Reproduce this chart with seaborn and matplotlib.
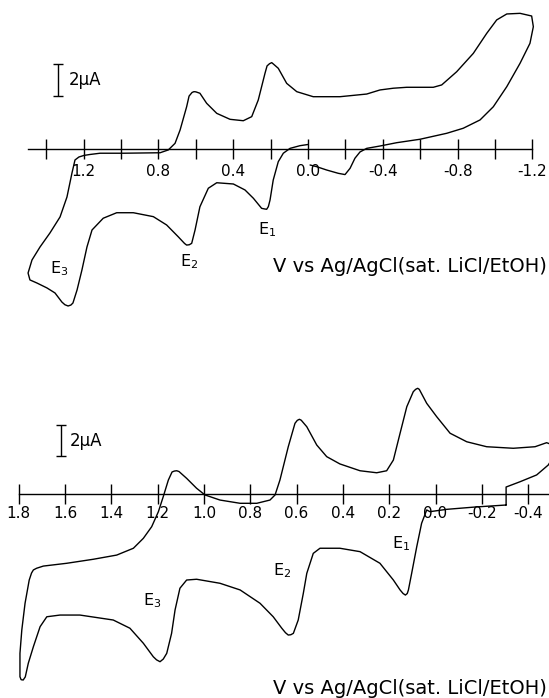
import matplotlib
matplotlib.use("Agg")
import matplotlib.pyplot as plt
import pandas as pd
import seaborn as sns

# Upper voltammogram: potential (V vs Ag/AgCl) and current (uA), in scan order
top_potential = [
    -0.011, -0.047, -0.100, -0.162, -0.198, -0.225, -0.251, -0.278, -0.314, -0.385,
    -0.474, -0.599, -0.742, -0.830, -0.920, -0.991, -1.063, -1.134, -1.187, -1.205,
    -1.196, -1.134, -1.063, -1.009, -0.956, -0.884, -0.795, -0.715, -0.670, -0.528,
    -0.456, -0.385, -0.314, -0.171, -0.028, 0.060, 0.114, 0.159, 0.184, 0.194,
    0.206, 0.219, 0.230, 0.266, 0.301, 0.346, 0.417, 0.488, 0.542, 0.578,
    0.600, 0.610, 0.620, 0.636, 0.649, 0.684, 0.711, 0.747, 0.791, 0.988,
    1.112, 1.166, 1.198, 1.225, 1.246, 1.262, 1.289, 1.326, 1.380, 1.433,
    1.476, 1.497, 1.487, 1.449, 1.396, 1.353, 1.316, 1.300, 1.283, 1.268,
    1.257, 1.235, 1.209, 1.182, 1.155, 1.095, 1.023, 0.934, 0.827, 0.756,
    0.694, 0.660, 0.649, 0.635, 0.622, 0.604, 0.578, 0.533, 0.488, 0.399,
    0.337, 0.292, 0.248, 0.232, 0.221, 0.212, 0.203, 0.186, 0.159, 0.132,
    0.096, 0.043, -0.002,
]
top_current = [
    -1.00, -1.11, -1.32, -1.53, -1.61, -1.21, -0.57, -0.17, 0.06, 0.21,
    0.42, 0.64, 1.02, 1.34, 1.87, 2.71, 3.99, 5.48, 6.75, 7.81,
    8.49, 8.66, 8.62, 8.24, 7.39, 6.11, 4.94, 4.10, 3.95, 3.95,
    3.89, 3.78, 3.52, 3.35, 3.35, 3.67, 4.20, 5.16, 5.42, 5.52,
    5.45, 5.31, 4.84, 3.14, 2.08, 1.82, 1.91, 2.29, 2.93, 3.57,
    3.66, 3.67, 3.62, 3.39, 2.71, 1.23, 0.38, -0.04, -0.22, -0.25,
    -0.25, -0.33, -0.39, -0.49, -0.68, -1.50, -3.04, -4.31, -5.33, -6.22,
    -7.05, -7.88, -8.32, -8.52, -8.83, -9.15, -9.73, -9.90, -9.98, -9.92,
    -9.79, -8.96, -7.69, -6.22, -5.14, -4.39, -4.04, -4.04, -4.29, -4.82,
    -5.57, -6.00, -6.10, -6.08, -5.99, -5.14, -3.66, -2.48, -2.13, -2.21,
    -2.59, -3.12, -3.76, -3.80, -3.82, -3.65, -3.23, -1.96, -0.79, -0.25,
    0.06, 0.23, 0.31,
]

# Lower voltammogram, same units, in scan order
bottom_potential = [
    -0.305, -0.305, -0.365, -0.437, -0.487, -0.505, -0.510, -0.500, -0.480, -0.430,
    -0.336, -0.221, -0.135, -0.063, -0.005, 0.038, 0.065, 0.070, 0.077, 0.086,
    0.096, 0.124, 0.153, 0.182, 0.211, 0.254, 0.326, 0.413, 0.470, 0.513,
    0.556, 0.580, 0.588, 0.597, 0.607, 0.636, 0.672, 0.693, 0.715, 0.772,
    0.844, 0.931, 0.996, 1.032, 1.075, 1.108, 1.118, 1.128, 1.138, 1.154,
    1.176, 1.197, 1.226, 1.262, 1.305, 1.377, 1.478, 1.593, 1.694, 1.723,
    1.737, 1.745, 1.755, 1.773, 1.787, 1.795, 1.795, 1.790, 1.781, 1.772,
    1.759, 1.737, 1.708, 1.679, 1.622, 1.536, 1.392, 1.320, 1.262, 1.219,
    1.205, 1.190, 1.176, 1.161, 1.140, 1.125, 1.104, 1.075, 1.032, 0.931,
    0.844, 0.758, 0.701, 0.664, 0.648, 0.636, 0.625, 0.614, 0.593, 0.571,
    0.556, 0.528, 0.499, 0.413, 0.326, 0.240, 0.182, 0.153, 0.140, 0.130,
    0.122, 0.117, 0.103, 0.081, 0.060, 0.038, 0.024, -0.048, -0.171, -0.305,
]
bottom_current = [
    -0.71, 0.45, 0.79, 1.23, 1.87, 2.30, 2.80, 3.20, 3.31, 3.05,
    2.95, 3.05, 3.37, 3.92, 4.99, 5.85, 6.61, 6.75, 6.82, 6.75,
    6.60, 5.63, 3.92, 2.19, 1.50, 1.37, 1.50, 1.94, 2.41, 3.16,
    4.34, 4.76, 4.82, 4.75, 4.56, 3.05, 0.90, -0.06, -0.39, -0.60,
    -0.60, -0.39, -0.06, 0.37, 1.01, 1.45, 1.50, 1.48, 1.42, 0.90,
    -0.17, -1.14, -2.11, -2.86, -3.50, -3.94, -4.21, -4.47, -4.65, -4.79,
    -4.90, -5.10, -5.55, -7.05, -8.77, -10.28, -11.79, -11.98, -12.00, -11.80,
    -10.92, -9.85, -8.56, -7.92, -7.81, -7.81, -8.13, -8.66, -9.63, -10.50,
    -10.70, -10.82, -10.65, -10.28, -8.99, -7.48, -6.08, -5.55, -5.50, -5.76,
    -6.19, -7.05, -7.92, -8.66, -8.95, -9.10, -9.08, -8.99, -8.13, -6.41,
    -5.12, -3.83, -3.50, -3.50, -3.72, -4.47, -5.55, -6.19, -6.42, -6.52,
    -6.42, -6.19, -5.12, -3.40, -1.89, -1.03, -1.14, -0.99, -0.84, -0.71,
]

top_ticks = [1.2, 0.8, 0.4, 0.0, -0.4, -0.8, -1.2]
top_tick_labels = ["1.2", "0.8", "0.4", "0.0", "-0.4", "-0.8", "-1.2"]
top_minor_ticks = [1.4, 1.0, 0.6, 0.2, -0.2, -0.6, -1.0]
bottom_ticks = [1.8, 1.6, 1.4, 1.2, 1.0, 0.8, 0.6, 0.4, 0.2, 0.0, -0.2, -0.4]
bottom_tick_labels = ["1.8", "1.6", "1.4", "1.2", "1.0", "0.8", "0.6", "0.4",
                      "0.2", "0.0", "-0.2", "-0.4"]

wave_labels = ["E$_1$", "E$_2$", "E$_3$"]
scale_label = "2\u03bcA"
potential_label = "V vs Ag/AgCl(sat. LiCl/EtOH)"

sns.set_theme(style="white")
plt.rcParams["font.family"] = ["DejaVu Sans"]
plt.rcParams["mathtext.default"] = "regular"

W, H = 549, 698
fig = plt.figure(figsize=(W / 100, H / 100), dpi=100)
fig.patch.set_facecolor("white")


def make_panel(rect, origin_px, v_scale, zero_px, i_scale, height_px):
    """Axes whose limits put 0 V at origin_px and 0 uA zero_px below the top."""
    ax = fig.add_axes(rect)
    ax.set_xlim(origin_px / v_scale, (origin_px - W) / v_scale)
    ax.set_ylim((zero_px - height_px) / i_scale, zero_px / i_scale)
    ax.set_facecolor("white")
    for side in ("left", "right", "top"):
        ax.spines[side].set_visible(False)
    ax.spines["bottom"].set_position(("data", 0))
    ax.spines["bottom"].set_linewidth(1.0)
    ax.spines["bottom"].set_color("black")
    ax.set_yticks([])
    return ax


ax_top = make_panel([0, 0.5, 1, 0.5], 308.0, 187.0, 149.3, 15.7, 349)
ax_bot = make_panel([0, 0.0, 1, 0.5], 435.5, 231.5, 145.0, 15.5, 349)

top_df = pd.DataFrame({"potential": top_potential, "current": top_current})
bot_df = pd.DataFrame({"potential": bottom_potential, "current": bottom_current})

for ax, df in ((ax_top, top_df), (ax_bot, bot_df)):
    sns.lineplot(data=df, x="potential", y="current", sort=False, estimator=None,
                 color="black", linewidth=1.0, ax=ax, legend=False)
    for line in ax.get_lines():
        line.set_solid_joinstyle("round")
    ax.set_xlabel("")
    ax.set_ylabel("")

# potential axes
ax_top.spines["bottom"].set_bounds(1.496, -1.2)
ax_top.set_xticks(top_ticks)
ax_top.set_xticklabels(top_tick_labels)
ax_top.set_xticks(top_minor_ticks, minor=True)
ax_top.tick_params(axis="x", which="both", direction="inout", length=14, width=1.0,
                   color="black", bottom=True)
ax_top.tick_params(axis="x", which="major", labelsize=11, pad=3.5, labelcolor="black")

ax_bot.spines["bottom"].set_bounds(1.8, -0.6)
ax_bot.set_xticks(bottom_ticks)
ax_bot.set_xticklabels(bottom_tick_labels)
ax_bot.tick_params(axis="x", which="major", direction="inout", length=14, width=1.0,
                   color="black", bottom=True, labelsize=11, pad=2.0, labelcolor="black")

# current scale bars
for ax, (bx, by), (tx, ty) in ((ax_top, (1.335, 4.41), (1.282, 4.41)),
                               (ax_bot, (1.619, 3.45), (1.579, 3.45))):
    ax.errorbar([bx], [by], yerr=[[1.0], [1.0]], fmt="none", ecolor="black",
                elinewidth=1.0, capsize=3.6, capthick=1.0)
    ax.text(tx, ty, scale_label, ha="left", va="center", fontsize=12, color="black")

# wave labels
top_label_pos = [(0.266, -5.39), (0.684, -7.48), (1.380, -7.88)]
bot_label_pos = [(0.189, -3.50), (0.703, -5.23), (1.265, -7.16)]
for ax, positions in ((ax_top, top_label_pos), (ax_bot, bot_label_pos)):
    for name, (lx, ly) in zip(wave_labels, positions):
        ax.text(lx, ly, name, ha="left", va="baseline", fontsize=11.5, color="black")

# potential axis titles
fig.text(547 / W, 1 - 272 / H, potential_label, ha="right", va="baseline",
         fontsize=14, color="black")
fig.text(547 / W, 1 - 694 / H, potential_label, ha="right", va="baseline",
         fontsize=14, color="black")

fig.savefig("out.png", dpi=100, facecolor="white")
